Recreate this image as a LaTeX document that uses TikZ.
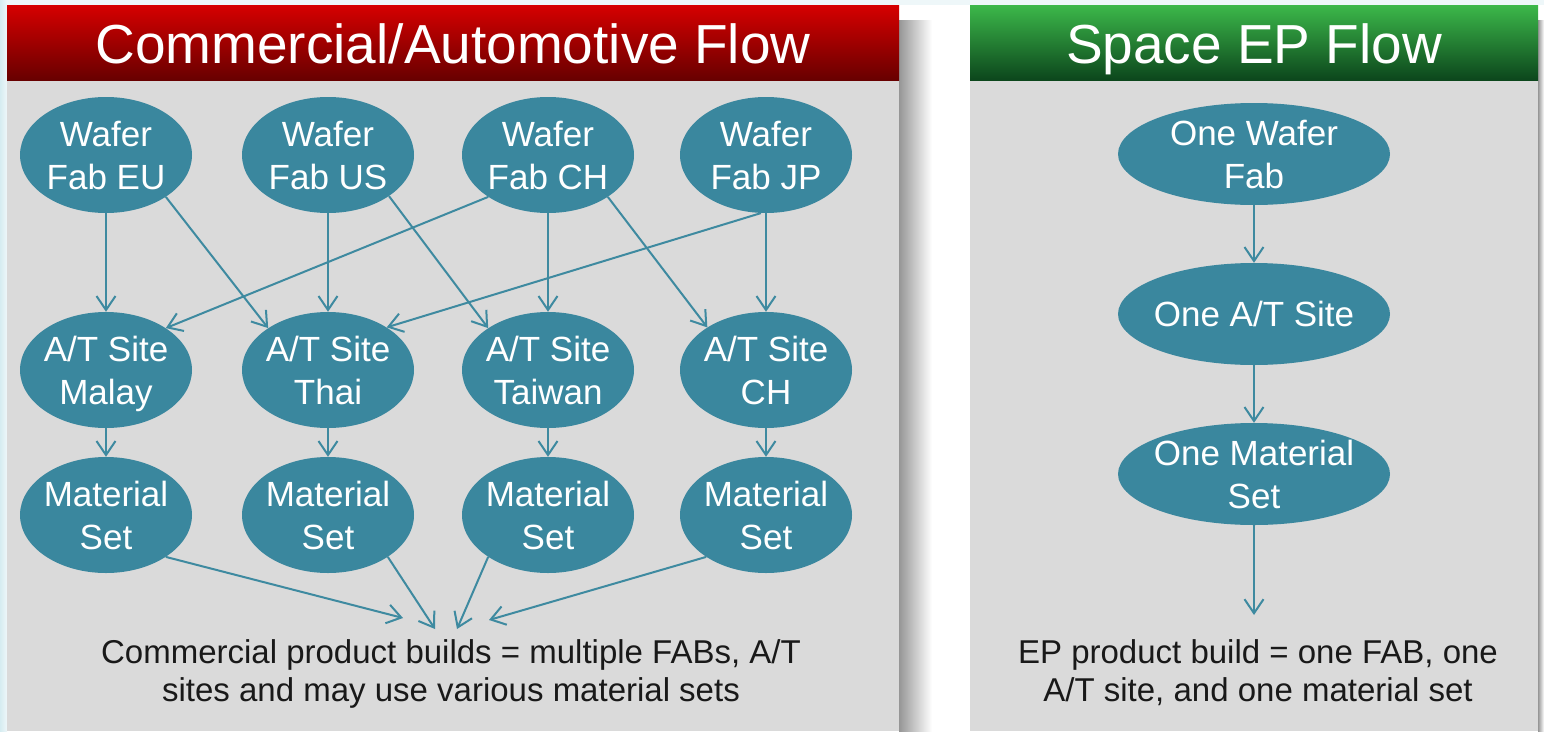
\documentclass[tikz,border=0pt]{standalone}
\usepackage{fontspec}
\setmainfont{Liberation Sans}
\usetikzlibrary{shapes.geometric,arrows.meta}
\definecolor{teal0}{RGB}{58,135,158}
\definecolor{arrowc}{RGB}{62,138,160}
\definecolor{panelgray}{RGB}{218,218,218}
\definecolor{redtop}{RGB}{214,0,0}
\definecolor{redbot}{RGB}{104,0,0}
\definecolor{greentop}{RGB}{60,184,74}
\definecolor{greenbot}{RGB}{12,70,28}
\definecolor{bgtint}{RGB}{238,247,249}
\definecolor{bgleft}{RGB}{214,236,241}
\definecolor{shadowc}{RGB}{150,150,150}
\tikzset{
  ellnode/.style={ellipse, fill=teal0, text=white, align=center,
    inner xsep=-40pt, inner ysep=-30pt, text depth=0pt,
    minimum width=172pt, minimum height=116pt, font=\fontsize{35}{43}\selectfont},
  onenode/.style={ellipse, fill=teal0, text=white, align=center,
    inner xsep=-60pt, inner ysep=-30pt, text depth=0pt,
    minimum width=272pt, minimum height=102pt, font=\fontsize{35}{43}\selectfont},
  headtext/.style={text=white, anchor=base, font=\fontsize{55}{60}\selectfont},
  foottext/.style={text=black!90, align=center, font=\fontsize{33}{38}\selectfont},
  flow/.style={draw=arrowc, line width=2pt, -{Straight Barb[length=14pt,width=19pt,line width=2pt]}}
}
\begin{document}
\begin{tikzpicture}[x=1pt,y=-1pt]
\useasboundingbox (0,0) rectangle (1544,731);
% page background
\fill[white] (0,0) rectangle (1544,731);
\fill[bgtint] (0,0) rectangle (1544,5);
\shade[left color=bgleft, right color=bgtint] (0,0) rectangle (7,731);
% shadows
\shade[left color=shadowc, right color=white] (899,20) rectangle (932,731);
\shade[left color=shadowc, right color=white] (1538,20) rectangle (1544,731);
% left panel
\fill[panelgray] (7,80) rectangle (899,731);
\shade[top color=redtop, bottom color=redbot] (7,5) rectangle (899,80);
\node[headtext] (hl) at (453,63) {Commercial/Automotive Flow};
% right panel
\fill[panelgray] (970,80) rectangle (1538,731);
\shade[top color=greentop, bottom color=greenbot] (970,5) rectangle (1538,80);
\node[headtext] (hr) at (1254,63) {Space EP Flow};

% left nodes
\node[ellnode] (fEU) at (106,155) {Wafer\\Fab EU};
\node[ellnode] (fUS) at (328,155) {Wafer\\Fab US};
\node[ellnode] (fCH) at (548,155) {Wafer\\Fab CH};
\node[ellnode] (fJP) at (766,155) {Wafer\\Fab JP};
\node[ellnode] (aMY) at (106,370) {A/T Site\\Malay};
\node[ellnode] (aTH) at (328,370) {A/T Site\\Thai};
\node[ellnode] (aTW) at (548,370) {A/T Site\\Taiwan};
\node[ellnode] (aCH) at (766,370) {A/T Site\\CH};
\node[ellnode] (mMY) at (106,515) {Material\\Set};
\node[ellnode] (mTH) at (328,515) {Material\\Set};
\node[ellnode] (mTW) at (548,515) {Material\\Set};
\node[ellnode] (mCH) at (766,515) {Material\\Set};
\node[foottext] (tl) at (451,674) {Commercial product builds = multiple FABs, A/T\\sites and may use various material sets};

\coordinate (e1) at (403,618);
\coordinate (e2) at (435,629);
\coordinate (e3) at (457,629);
\coordinate (e4) at (489,620);

% left arrows
\draw[flow] (fEU.south) -- (aMY.north);
\draw[flow] (fEU.-35) -- (aTH.145);
\draw[flow] (fUS.south) -- (aTH.north);
\draw[flow] (fUS.-34) -- (aTW.145);
\draw[flow] (fCH.-145) -- (aMY.35);
\draw[flow] (fCH.south) -- (aTW.north);
\draw[flow] (fCH.-35) -- (aCH.144);
\draw[flow] (fJP.-95) -- (aTH.36);
\draw[flow] (fJP.south) -- (aCH.north);
\draw[flow] (aMY.south) -- (mMY.north);
\draw[flow] (aTH.south) -- (mTH.north);
\draw[flow] (aTW.south) -- (mTW.north);
\draw[flow] (aCH.south) -- (mCH.north);
\draw[flow] (mMY.-35) -- (e1);
\draw[flow] (mTH.-35) -- (e2);
\draw[flow] (mTW.-145) -- (e3);
\draw[flow] (mCH.-145) -- (e4);

% right nodes
\node[onenode] (oF) at (1254,154) {One Wafer\\Fab};
\node[onenode] (oA) at (1254,314) {One A/T Site};
\node[onenode] (oM) at (1254,474) {One Material\\Set};
\node[foottext] (tr) at (1258,673) {EP product build = one FAB, one\\A/T site, and one material set};
\coordinate (e5) at (1254,615);
\draw[flow] (oF.south) -- (oA.north);
\draw[flow] (oA.south) -- (oM.north);
\draw[flow] (oM.south) -- (e5);
\end{tikzpicture}
\end{document}
